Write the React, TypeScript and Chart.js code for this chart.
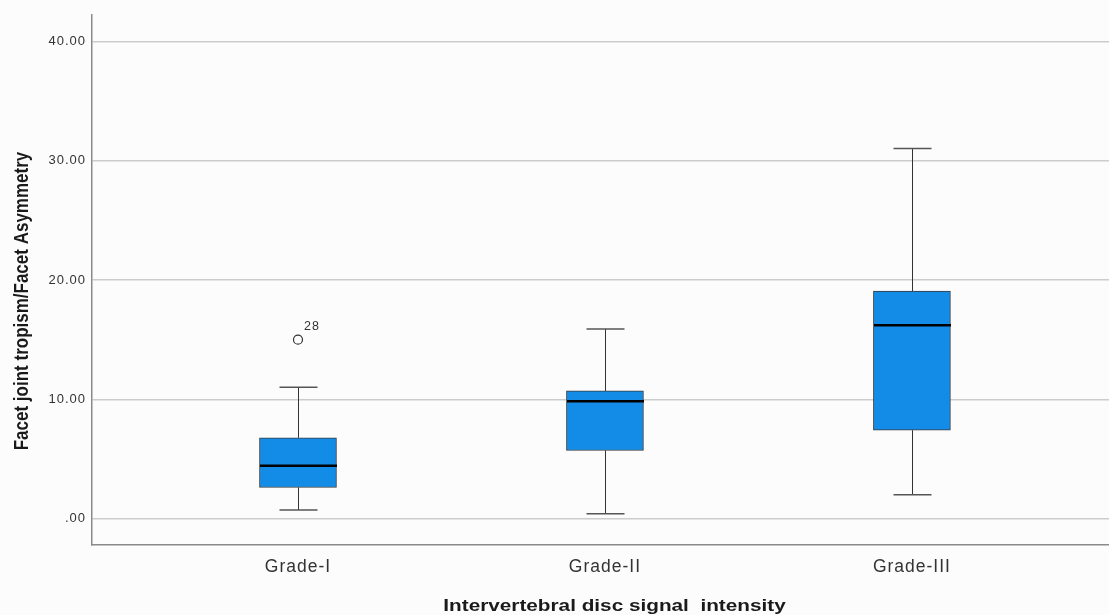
import React, { useEffect, useRef } from 'react';
import { Chart, registerables } from 'chart.js';

Chart.register(...registerables);

const categories = ['Grade-I', 'Grade-II', 'Grade-III'];
const whiskerLow = [0.73, 0.42, 2.0];
const quartile1 = [2.62, 5.72, 7.42];
const medians = [4.44, 9.85, 16.2];
const quartile3 = [6.78, 10.71, 19.08];
const whiskerHigh = [11.02, 15.9, 31.02];
const outlierCategory = [0];
const outlierValues = [15.0];
const outlierLabels = ['28'];
const yTicks = [0, 10, 20, 30, 40];
const xTitle = 'Intervertebral disc signal  intensity';
const yTitle = 'Facet joint tropism/Facet Asymmetry';

const W = 1109;
const H = 615;
const BOX_W = 77;
const CAP_W = 38;
const FONT = '"Liberation Sans", Arial, sans-serif';

const boxPlugin = {
  id: 'boxExtras',
  beforeDraw(chart: any) {
    const ctx = chart.ctx;
    ctx.save();
    ctx.fillStyle = '#fcfcfc';
    ctx.fillRect(0, 0, chart.width, chart.height);
    ctx.restore();
    ctx.letterSpacing = '1px';
  },
  afterDatasetsDraw(chart: any) {
    const { ctx } = chart;
    const x = chart.scales.x;
    const y = chart.scales.y;
    ctx.save();
    categories.forEach((_, i) => {
      const cx = Math.round(x.getPixelForValue(i)) + 0.5;
      const yHi = y.getPixelForValue(whiskerHigh[i]);
      const yQ3 = y.getPixelForValue(quartile3[i]);
      const yQ1 = y.getPixelForValue(quartile1[i]);
      const yLo = y.getPixelForValue(whiskerLow[i]);
      const yMed = y.getPixelForValue(medians[i]);
      ctx.strokeStyle = '#333333';
      ctx.lineWidth = 1;
      ctx.beginPath();
      ctx.moveTo(cx, yHi);
      ctx.lineTo(cx, yQ3);
      ctx.moveTo(cx, yQ1);
      ctx.lineTo(cx, yLo);
      ctx.stroke();
      ctx.strokeStyle = '#555555';
      ctx.lineWidth = 1.5;
      ctx.beginPath();
      ctx.moveTo(cx - CAP_W / 2, yHi);
      ctx.lineTo(cx + CAP_W / 2, yHi);
      ctx.moveTo(cx - CAP_W / 2, yLo);
      ctx.lineTo(cx + CAP_W / 2, yLo);
      ctx.stroke();
      ctx.strokeStyle = '#000000';
      ctx.lineWidth = 2.5;
      ctx.beginPath();
      ctx.moveTo(cx - BOX_W / 2, yMed);
      ctx.lineTo(cx + BOX_W / 2, yMed);
      ctx.stroke();
    });
    // outliers
    ctx.strokeStyle = '#333333';
    ctx.lineWidth = 1.2;
    outlierValues.forEach((v, k) => {
      const px = x.getPixelForValue(outlierCategory[k]);
      const py = y.getPixelForValue(v);
      ctx.beginPath();
      ctx.arc(px, py, 4.5, 0, Math.PI * 2);
      ctx.stroke();
    });
    ctx.restore();
  },
  afterDraw(chart: any) {
    const { ctx } = chart;
    const x = chart.scales.x;
    const y = chart.scales.y;
    ctx.save();
    // outlier labels
    ctx.letterSpacing = '1px';
    ctx.font = `12.5px ${FONT}`;
    ctx.fillStyle = '#333333';
    ctx.textAlign = 'left';
    ctx.textBaseline = 'middle';
    outlierValues.forEach((v, k) => {
      const px = x.getPixelForValue(outlierCategory[k]);
      const py = y.getPixelForValue(v);
      ctx.fillText(outlierLabels[k], px + 6, py - 13);
    });
    // axis titles
    ctx.letterSpacing = '0px';
    ctx.fillStyle = '#1a1a1a';
    ctx.font = `bold 17px ${FONT}`;
    ctx.textAlign = 'center';
    ctx.textBaseline = 'alphabetic';
    ctx.save();
    ctx.translate(614.5, 611);
    ctx.scale(1.22, 1);
    ctx.fillText(xTitle, 0, 0);
    ctx.restore();
    ctx.save();
    ctx.translate(27.5, 301);
    ctx.rotate(-Math.PI / 2);
    ctx.scale(1, 1.22);
    ctx.fillText(yTitle, 0, 0);
    ctx.restore();
    ctx.restore();
  },
};

export default function App() {
  const ref = useRef<HTMLCanvasElement>(null);
  useEffect(() => {
    if (!ref.current) return;
    const chart = new Chart(ref.current, {
      type: 'bar',
      data: {
        datasets: [
          {
            type: 'bar',
            data: categories.map((_, i) => ({ x: i, y: [quartile1[i], quartile3[i]] })) as any,
            backgroundColor: '#128ce6',
            borderColor: '#3a3a3a',
            borderWidth: 1,
            borderSkipped: false,
            barThickness: BOX_W,
            grouped: false,
          } as any,
        ],
      },
      options: {
        animation: false,
        responsive: false,
        devicePixelRatio: 1,
        layout: { padding: { top: 15, right: 0, left: 0, bottom: 0 } },
        plugins: {
          legend: { display: false },
          tooltip: { enabled: false },
          title: { display: false },
        },
        scales: {
          x: {
            type: 'linear',
            min: -0.671,
            max: 2.642,
            offset: false,
            afterBuildTicks: (s: any) => {
              s.ticks = categories.map((_, i) => ({ value: i }));
            },
            afterFit: (s: any) => {
              s.height = 70;
              s.paddingLeft = 0;
              s.paddingRight = 0;
            },
            ticks: {
              callback: (v: any) => categories[Math.round(Number(v))] ?? '',
              font: { family: FONT, size: 17.5 },
              color: '#333333',
              padding: 12,
              maxRotation: 0,
              autoSkip: false,
            },
            grid: { display: false, drawTicks: false },
            border: { display: true, color: '#8a8a8a', width: 1.5 },
          },
          y: {
            type: 'linear',
            min: -2.2,
            max: 42.2,
            afterBuildTicks: (s: any) => {
              s.ticks = yTicks.map((v) => ({ value: v }));
            },
            afterFit: (s: any) => {
              s.width = 92;
              s.paddingTop = 0;
              s.paddingBottom = 0;
            },
            ticks: {
              callback: (v: any) => (Number(v) === 0 ? '.00' : Number(v).toFixed(2)),
              font: { family: FONT, size: 13 },
              color: '#333333',
              padding: 6,
            },
            grid: { color: '#cccccc', lineWidth: 1.5, drawTicks: false },
            border: { display: true, color: '#8a8a8a', width: 1.5 },
          },
        },
      },
      plugins: [boxPlugin],
    } as any);
    return () => chart.destroy();
  }, []);
  return (
    <div style={{ position: 'fixed', left: 0, top: 0, width: W, height: H, background: '#fcfcfc' }}>
      <canvas ref={ref} width={W} height={H} style={{ display: 'block' }} />
    </div>
  );
}
